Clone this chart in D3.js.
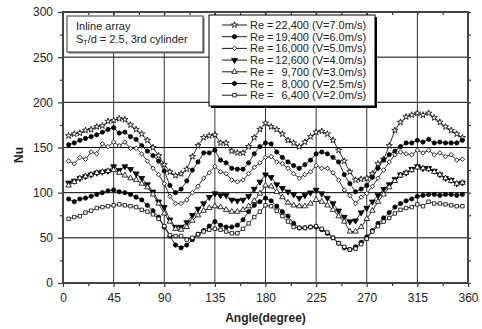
<!DOCTYPE html>
<html>
<head>
<meta charset="utf-8">
<script src="https://cdn.jsdelivr.net/npm/d3@7/dist/d3.min.js"></script>
<style>
body{margin:0;background:#fff;}
svg{display:block;font-family:"Liberation Sans",Arial,sans-serif;}
</style>
</head>
<body>
<svg></svg>
<script>
// angle of measuring point (degree)
const angles = [5,10,15,20,25,30,35,40,45,50,55,60,65,70,75,80,85,90,95,100,
  105,110,115,120,125,130,135,140,145,150,155,160,165,170,175,180,185,190,195,200,
  205,210,215,220,225,230,235,240,245,250,255,260,265,270,275,280,285,290,295,300,
  305,310,315,320,325,330,335,340,345,350,355];

// Nu values per Reynolds number
const nu_22400 = [163,165,166,169,170,173,174,179,180,182,181,175,170,165,158,150,141,131,123,119,
  121,126,140,152,161,163,164,155,155,146,144,144,151,161,170,177,173,170,165,158,
  155,151,156,162,167,168,165,158,147,135,123,114,115,116,121,132,137,152,169,178,
  184,186,188,186,188,183,178,173,169,165,161];
const nu_19400 = [153,155,158,160,162,164,167,170,172,166,167,162,159,152,146,141,135,124,108,100,
  104,113,125,134,144,144,147,136,133,127,126,126,133,143,151,155,154,145,139,134,
  130,127,131,136,143,145,143,139,134,120,110,101,104,108,117,127,136,142,146,151,
  155,155,158,156,159,155,156,155,155,155,158];
const nu_16000 = [135,132,139,137,145,143,154,151,156,152,156,149,149,143,135,127,120,110,96,88,
  88,92,100,107,116,122,129,123,121,114,112,114,121,128,133,139,140,134,132,127,
  121,116,120,123,130,127,127,122,114,103,97,88,95,99,107,116,125,134,142,145,
  143,142,147,144,147,142,144,140,142,136,137];
const nu_12600 = [111,113,116,118,120,122,123,124,129,125,129,126,121,116,109,101,90,84,70,62,
  62,67,75,82,88,95,99,97,97,92,91,92,96,104,112,120,117,109,105,101,
  98,94,97,100,103,99,94,88,80,73,68,69,78,83,90,97,104,109,115,120,
  122,126,129,127,127,124,120,116,114,110,111];
const nu_9700 = [108,112,116,118,120,122,123,124,125,122,119,116,114,110,106,98,88,77,68,60,
  59,62,69,75,80,83,85,84,81,79,79,81,85,91,99,108,107,101,95,89,
  86,85,85,88,92,90,86,81,74,68,57,57,62,71,80,90,98,106,113,119,
  122,125,128,127,126,123,120,116,113,110,111];
const nu_8000 = [93,90,93,94,96,98,100,102,103,101,100,98,95,92,86,80,73,62,52,42,
  39,42,48,54,58,63,68,64,62,62,64,70,79,86,90,94,91,85,79,74,
  66,61,61,62,62,59,55,50,44,39,37,40,45,51,58,66,72,78,84,88,
  91,93,96,97,98,98,97,98,98,97,98];
const nu_6400 = [71,73,74,78,80,83,84,85,86,87,86,85,84,81,79,76,71,63,53,52,
  52,48,50,54,57,59,60,59,57,55,55,60,66,73,79,86,85,80,74,68,
  62,61,61,62,63,60,56,50,44,40,37,38,43,49,57,63,68,72,77,81,
  83,84,87,85,90,88,88,87,86,85,85];

const re_labels = ['22,400','19,400','16,000','12,600','9,700','8,000','6,400'];
const v_labels = ['7.0','6.0','5.0','4.0','3.0','2.5','2.0'];
const x_ticks = [0,45,90,135,180,225,270,315,360];
const y_ticks = [0,50,100,150,200,250,300];

const series = [nu_22400,nu_19400,nu_16000,nu_12600,nu_9700,nu_8000,nu_6400];
const marker_type = ['star','circle','diamond','tri_down','tri_up','circle','square'];
const marker_fill = ['#fff','#000','#fff','#000','#fff','#000','#fff'];

const W = 482, H = 329;
const svg = d3.select('svg').attr('width',W).attr('height',H);
const x = d3.scaleLinear().domain([0,360]).range([63,468]);
const y = d3.scaleLinear().domain([0,300]).range([283,12]);

// marker path + rotation
function marker(kind){
  if(kind==='star') return {d:d3.symbol().type(d3.symbolStar).size(12)(), r:0};
  if(kind==='circle') return {d:d3.symbol().type(d3.symbolCircle).size(14)(), r:0};
  if(kind==='diamond') return {d:d3.symbol().type(d3.symbolSquare).size(10)(), r:45};
  if(kind==='tri_down') return {d:d3.symbol().type(d3.symbolTriangle).size(15)(), r:180};
  if(kind==='tri_up') return {d:d3.symbol().type(d3.symbolTriangle).size(13)(), r:0};
  return {d:d3.symbol().type(d3.symbolSquare).size(12)(), r:0};
}
function draw_marker(p_obj,cx,cy,kind,fill){
  let m = marker(kind);
  return p_obj.append('path').attr('d',m.d)
    .attr('transform','translate('+cx+','+cy+') rotate('+m.r+')')
    .attr('fill',fill).attr('stroke','#000').attr('stroke-width',0.8);
}

// grid
let grid = svg.append('g');
grid.selectAll('line.gx').data(x_ticks.slice(1,-1)).join('line').attr('class','gx')
  .attr('x1',d=>x(d)).attr('x2',d=>x(d)).attr('y1',y(0)).attr('y2',y(300))
  .attr('stroke','#333').attr('stroke-width',1);
grid.selectAll('line.gy').data(y_ticks.slice(1,-1)).join('line').attr('class','gy')
  .attr('x1',x(0)).attr('x2',x(360)).attr('y1',d=>y(d)).attr('y2',d=>y(d))
  .attr('stroke','#000').attr('stroke-width',1);

// axes
function style_axis(g){
  g.select('.domain').remove();
  g.selectAll('line').attr('stroke','#333').attr('stroke-width',1.2);
  g.selectAll('text').attr('font-size',12).attr('fill','#222')
    .attr('font-family','"Liberation Sans",Arial,sans-serif');
}
const x_minor = x_ticks.slice(0,-1).map(d=>d+22.5);
const y_minor = y_ticks.slice(0,-1).map(d=>d+25);
svg.append('g').attr('transform','translate(0,'+y(0)+')')
  .call(d3.axisBottom(x).tickValues(x_ticks).tickSize(4).tickPadding(6)).call(style_axis);
svg.append('g').attr('transform','translate(0,'+y(0)+')')
  .call(d3.axisBottom(x).tickValues(x_minor).tickSize(3).tickFormat('')).call(style_axis);
svg.append('g').attr('transform','translate('+x(0)+',0)')
  .call(d3.axisLeft(y).tickValues(y_ticks).tickSize(5).tickPadding(5)).call(style_axis);
svg.append('g').attr('transform','translate('+x(0)+',0)')
  .call(d3.axisLeft(y).tickValues(y_minor).tickSize(3).tickFormat('')).call(style_axis);
svg.append('g').attr('transform','translate(0,'+y(300)+')')
  .call(d3.axisTop(x).tickValues(x_ticks.concat(x_minor)).tickSize(-3).tickFormat('')).call(style_axis);
svg.append('g').attr('transform','translate('+x(360)+',0)')
  .call(d3.axisRight(y).tickValues(y_ticks.concat(y_minor)).tickSize(3).tickFormat('')).call(style_axis);

svg.append('rect').attr('x',x(0)).attr('y',y(300))
  .attr('width',x(360)-x(0)).attr('height',y(0)-y(300))
  .attr('fill','none').attr('stroke','#444').attr('stroke-width',2);

// series
const line = d3.line().x((d,i)=>x(angles[i])).y(d=>y(d));
series.forEach((s,k)=>{
  let g = svg.append('g');
  g.append('path').attr('d',line(s)).attr('fill','none')
    .attr('stroke','#000').attr('stroke-width',0.8);
  s.forEach((v,i)=>draw_marker(g,x(angles[i]),y(v),marker_type[k],marker_fill[k]));
});

// inset text box
svg.append('rect').attr('x',68.5).attr('y',17.5).attr('width',136).attr('height',36).attr('fill','#666');
svg.append('rect').attr('x',67).attr('y',16).attr('width',136).attr('height',36)
  .attr('fill','#fff').attr('stroke','#555').attr('stroke-width',1.2);
svg.append('text').attr('x',76).attr('y',30).attr('font-size',11).attr('fill','#222').text('Inline array');
let st = svg.append('text').attr('x',76).attr('y',43).attr('font-size',11).attr('fill','#222');
st.append('tspan').text('S');
st.append('tspan').attr('font-size',7).attr('dy',2).text('T');
st.append('tspan').attr('dy',-2).text('/d = 2.5, 3rd cylinder');

// legend
svg.append('rect').attr('x',211).attr('y',17).attr('width',166).attr('height',91).attr('fill','#000');
svg.append('rect').attr('x',209).attr('y',15).attr('width',166).attr('height',91)
  .attr('fill','#fff').attr('stroke','#000').attr('stroke-width',1);
re_labels.forEach((r,k)=>{
  let ly = 25 + k*11.7;
  svg.append('line').attr('x1',222).attr('x2',247).attr('y1',ly).attr('y2',ly)
    .attr('stroke','#000').attr('stroke-width',0.9);
  draw_marker(svg,234.5,ly,marker_type[k],marker_fill[k]);
  svg.append('text').attr('x',250).attr('y',ly+4).attr('font-size',11).attr('fill','#222').text('Re =');
  svg.append('text').attr('x',309).attr('y',ly+4).attr('font-size',11).attr('fill','#222')
    .attr('text-anchor','end').text(r);
  svg.append('text').attr('x',312).attr('y',ly+4).attr('font-size',11).attr('fill','#222')
    .text('(V='+v_labels[k]+'m/s)');
});

// axis titles
svg.append('text').attr('x',265.5).attr('y',322).attr('text-anchor','middle')
  .attr('font-size',12).attr('font-weight','bold').attr('fill','#222').text('Angle(degree)');
svg.append('text').attr('transform','translate(23,155) rotate(-90)').attr('text-anchor','middle')
  .attr('font-size',12).attr('font-weight','bold').attr('fill','#222').text('Nu');
</script>
</body>
</html>
